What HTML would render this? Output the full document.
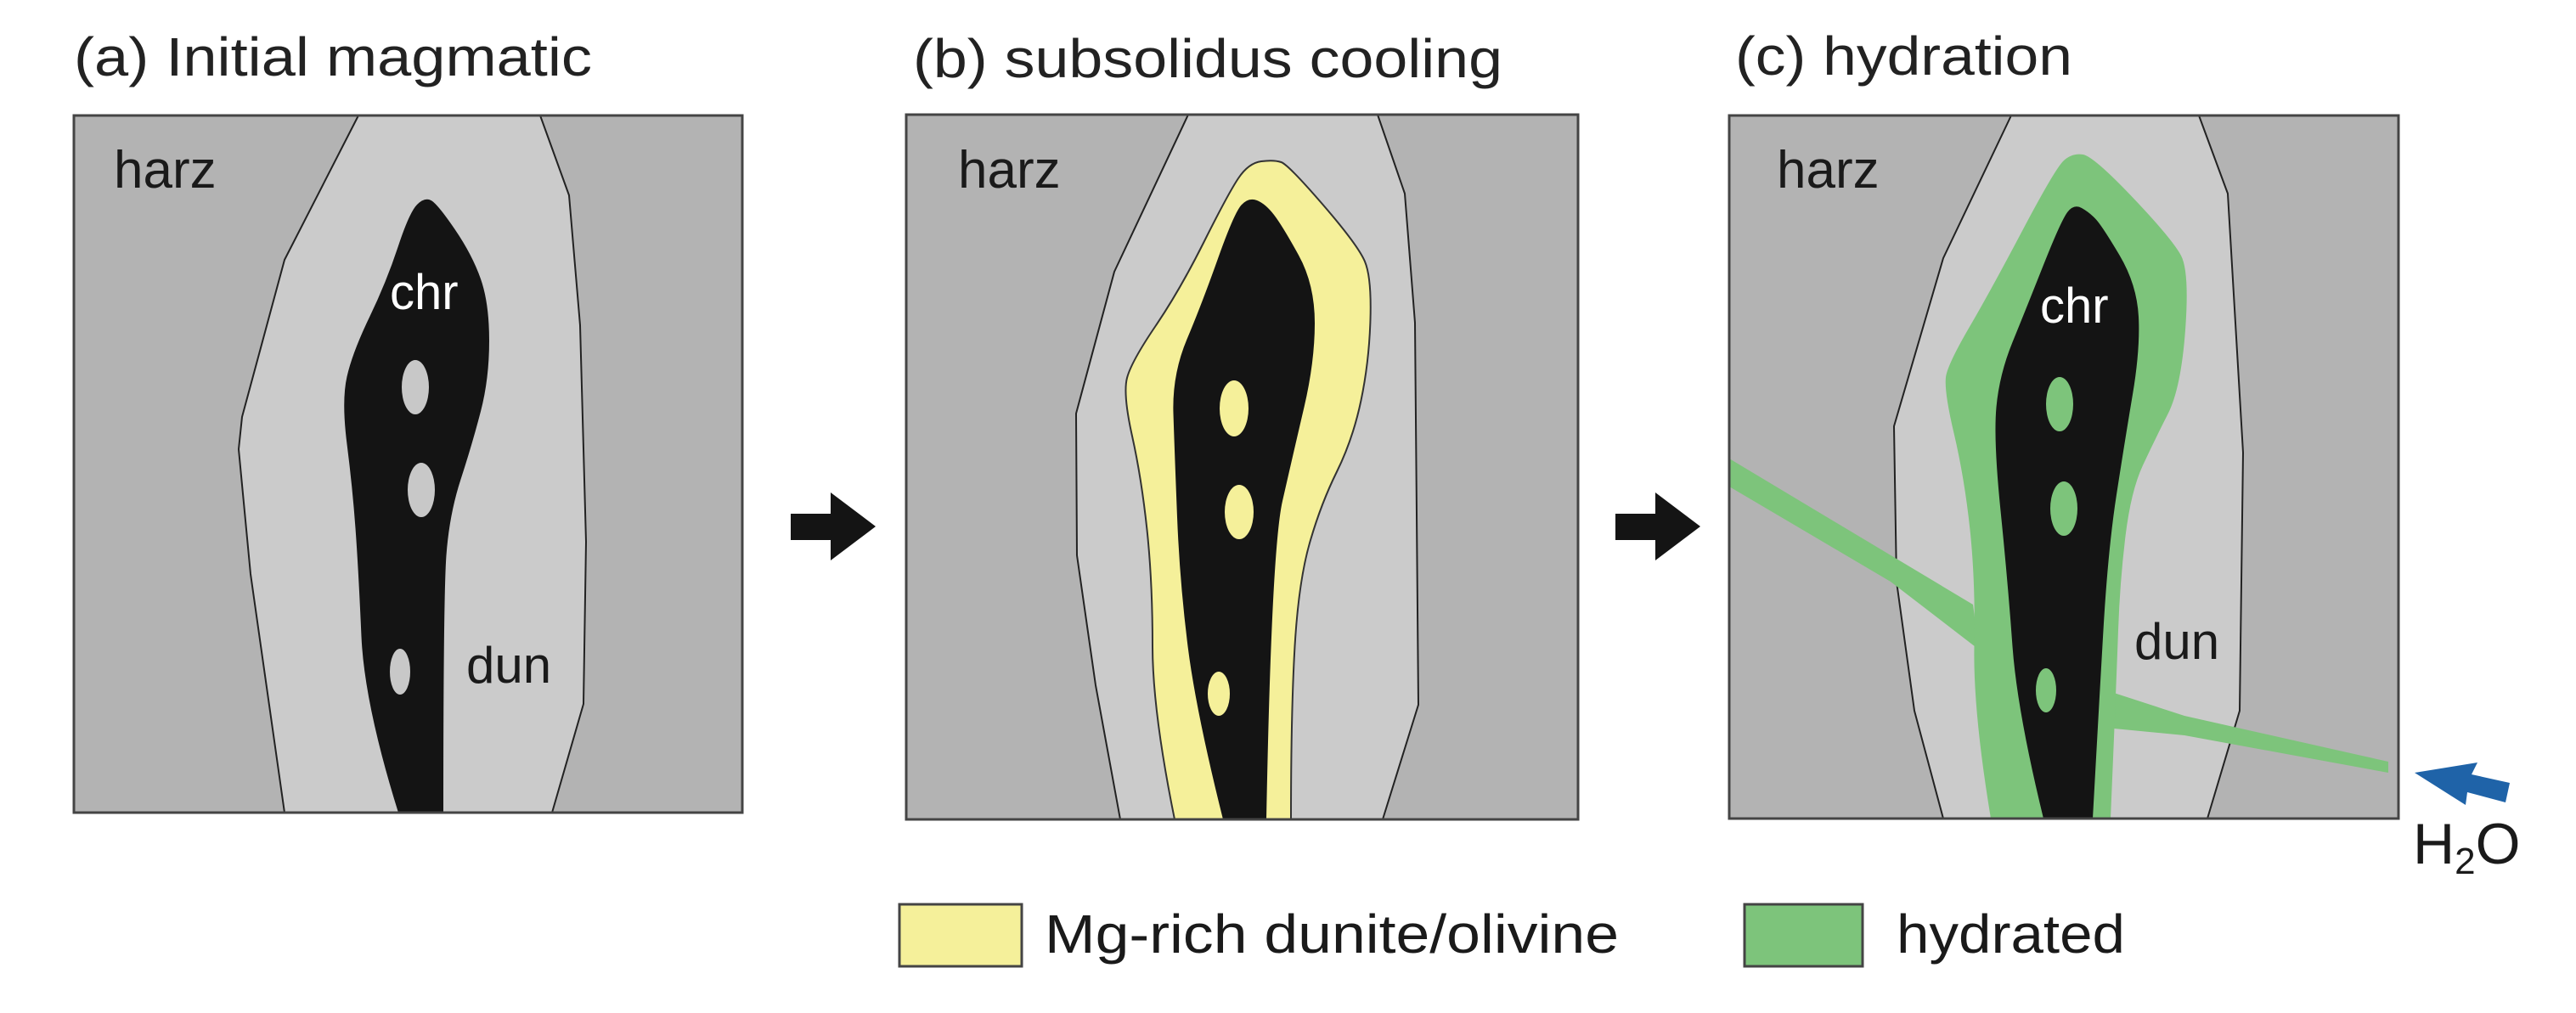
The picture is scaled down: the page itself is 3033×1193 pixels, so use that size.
<!DOCTYPE html>
<html><head><meta charset="utf-8"><style>
html,body{margin:0;padding:0;background:#fff;}
svg{display:block;}
text{font-family:"Liberation Sans",Arial,sans-serif;}
</style></head><body>
<svg id="s" width="3033" height="1193" viewBox="0 0 3033 1193" xmlns="http://www.w3.org/2000/svg">
<rect width="3033" height="1193" fill="#fff"/>

<text x="87" y="89" font-size="64" fill="#222" textLength="610" lengthAdjust="spacingAndGlyphs">(a) Initial magmatic</text>
<text x="1075" y="91" font-size="64" fill="#222" textLength="694" lengthAdjust="spacingAndGlyphs">(b) subsolidus cooling</text>
<text x="2043" y="88" font-size="64" fill="#222" textLength="397" lengthAdjust="spacingAndGlyphs">(c) hydration</text>

<!-- Panel A -->
<rect x="87" y="136" width="787" height="821" fill="#b3b3b3"/>
<polygon points="422,136 335,306 285,491 281,529 295,676 335,957 650,957 687,829 690,638 683,383 670,230 636,136" fill="#cbcbcb" stroke="#222" stroke-width="2" stroke-linejoin="round"/>
<polygon class="sm" points="469,957 429,829 422,670 415,574 402,472 415,415 455,332 482,250 500,232 515,240 556,300 576,357 576,446 556,523 529,606 522,702 522,957" fill="#141414"/>
<ellipse cx="489" cy="456" rx="16" ry="32" fill="#c8c8c8"/>
<ellipse cx="496" cy="577" rx="16" ry="32" fill="#c8c8c8"/>
<ellipse cx="471" cy="791" rx="12" ry="27" fill="#c8c8c8"/>
<rect x="87" y="136" width="787" height="821" fill="none" stroke="#444" stroke-width="3"/>
<text x="134" y="221" font-size="62" fill="#1a1a1a">harz</text>
<text x="459" y="364" font-size="58" fill="#fff">chr</text>
<text x="549" y="804" font-size="60" fill="#1a1a1a">dun</text>

<polygon points="931,605 978,605 978,580 1031,620 978,660 978,636 931,636" fill="#141414"/>

<!-- Panel B -->
<rect x="1067" y="135" width="791" height="830" fill="#b3b3b3"/>
<polygon points="1399,135 1312,320 1267,487 1268,654 1290,807 1319,965 1628,965 1670,830 1666,380 1654,228 1622,135" fill="#cbcbcb" stroke="#222" stroke-width="2" stroke-linejoin="round"/>
<polygon class="sm" points="1383,965 1357,837 1357,685 1344,563 1322,464 1332,426 1389,342 1446,228 1470,192 1500,188 1517,194 1599,289 1615,327 1612,426 1593,517 1555,594 1529,685 1520,837 1520,965" fill="#f5f09a" stroke="#333" stroke-width="2"/>
<polygon class="sm" points="1440,965 1408,837 1389,685 1383,533 1380,441 1415,358 1453,251 1470,232 1490,240 1510,266 1548,335 1548,426 1523,533 1497,647 1491,965" fill="#141414"/>
<ellipse cx="1453" cy="481" rx="17" ry="33" fill="#f5f09a"/>
<ellipse cx="1459" cy="603" rx="17" ry="32" fill="#f5f09a"/>
<ellipse cx="1435" cy="817" rx="13" ry="26" fill="#f5f09a"/>
<rect x="1067" y="135" width="791" height="830" fill="none" stroke="#444" stroke-width="3"/>
<text x="1128" y="221" font-size="62" fill="#1a1a1a">harz</text>

<polygon points="1902,605 1949,605 1949,580 2002,620 1949,660 1949,636 1902,636" fill="#141414"/>

<!-- Panel C -->
<rect x="2036" y="136" width="788" height="828" fill="#b3b3b3"/>
<polygon points="2368,136 2288,304 2230,502 2233,685 2254,837 2288,964 2599,964 2637,837 2641,533 2623,228 2589,136" fill="#cbcbcb" stroke="#222" stroke-width="2" stroke-linejoin="round"/>
<polygon points="2036,540 2323,712 2330,765 2226,685 2036,573" fill="#7dc47b"/>
<polygon points="2489,816 2572,843 2812,897 2812,910 2572,866 2489,858" fill="#7dc47b"/>
<polygon class="sm" points="2344,964 2323,837 2326,685 2313,563 2288,457 2295,426 2344,342 2420,198 2440,180 2465,184 2558,282 2578,320 2568,457 2537,518 2509,578 2496,685 2492,799 2485,964" fill="#7dc47b"/>
<polygon class="sm" points="2406,964 2375,837 2364,685 2347,518 2354,441 2385,365 2427,259 2442,240 2460,250 2475,266 2516,335 2520,411 2502,518 2482,647 2471,837 2464,964" fill="#141414"/>
<ellipse cx="2425" cy="476" rx="16" ry="32" fill="#7dc47b"/>
<ellipse cx="2430" cy="599" rx="16" ry="32" fill="#7dc47b"/>
<ellipse cx="2409" cy="813" rx="12" ry="26" fill="#7dc47b"/>
<rect x="2036" y="136" width="788" height="828" fill="none" stroke="#444" stroke-width="3"/>
<text x="2092" y="221" font-size="62" fill="#1a1a1a">harz</text>
<text x="2402" y="380" font-size="58" fill="#fff">chr</text>
<text x="2513" y="776" font-size="60" fill="#1a1a1a">dun</text>

<polygon points="2843,910 2917,898 2910,912 2955,922 2950,945 2905,933 2903,948" fill="#1f63a8"/>
<text x="2841" y="1017" font-size="68" fill="#1a1a1a">H<tspan font-size="44" dy="12">2</tspan><tspan dy="-12">O</tspan></text>

<rect x="1059" y="1065" width="144" height="73" fill="#f5f09a" stroke="#444" stroke-width="3"/>
<text x="1230" y="1122" font-size="64" fill="#1a1a1a" textLength="676" lengthAdjust="spacingAndGlyphs">Mg-rich dunite/olivine</text>
<rect x="2054" y="1065" width="139" height="73" fill="#7dc47b" stroke="#444" stroke-width="3"/>
<text x="2233" y="1122" font-size="64" fill="#1a1a1a" textLength="269" lengthAdjust="spacingAndGlyphs">hydrated</text>
</svg>
<script>
(function(){
var ns="http://www.w3.org/2000/svg";
document.querySelectorAll("polygon.sm").forEach(function(p){
  var pts=p.getAttribute("points").trim().split(/\s+/).map(function(s){return s.split(",").map(Number);});
  var n=pts.length;
  // first and last points are on the bottom edge: keep straight bottom
  var d="M"+pts[0][0]+","+pts[0][1];
  for(var i=1;i<n-1;i++){
    var c=pts[i], nx=pts[i+1];
    var mx=(c[0]+nx[0])/2, my=(c[1]+nx[1])/2;
    if(i==n-2){mx=nx[0];my=nx[1];}
    d+=" Q"+c[0]+","+c[1]+" "+mx+","+my;
  }
  d+=" Z";
  var path=document.createElementNS(ns,"path");
  path.setAttribute("d",d);
  ["fill","stroke","stroke-width"].forEach(function(a){if(p.getAttribute(a))path.setAttribute(a,p.getAttribute(a));});
  p.parentNode.replaceChild(path,p);
});
})();
</script>
</body></html>
